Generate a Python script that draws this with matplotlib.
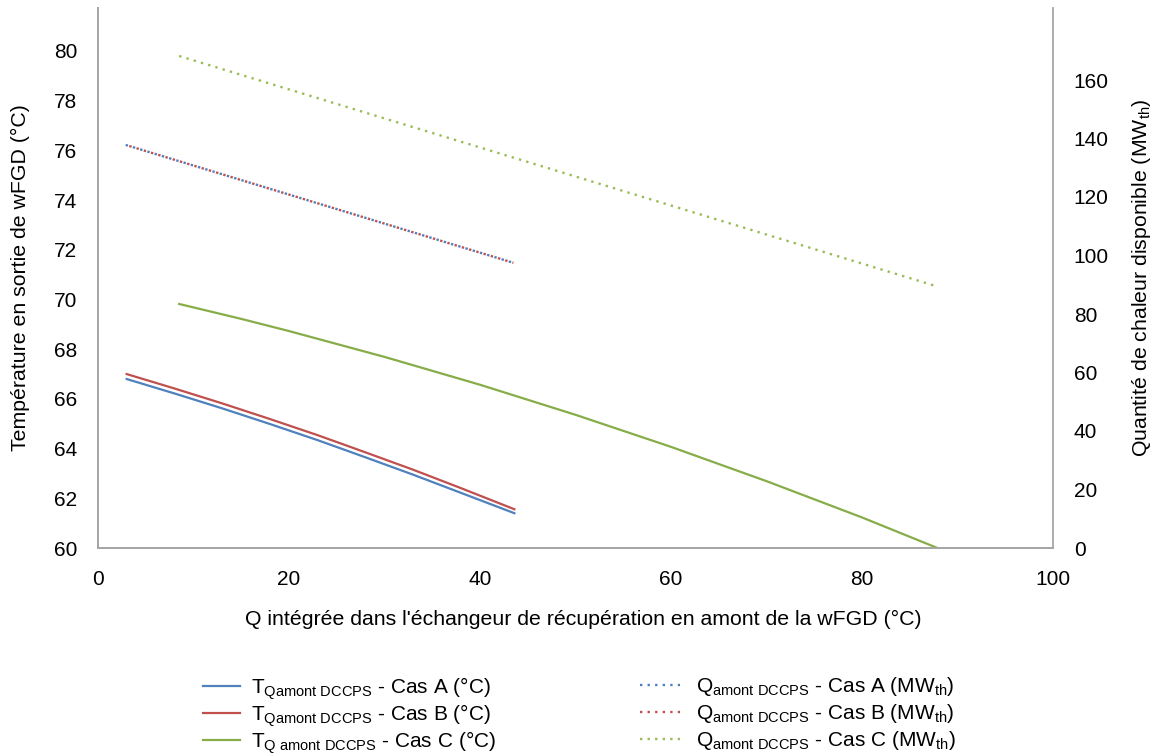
import matplotlib
matplotlib.use("Agg")
import matplotlib.pyplot as plt
from matplotlib.lines import Line2D

plt.rcParams['font.family'] = ['Liberation Sans', 'DejaVu Sans']
plt.rcParams['mathtext.fontset'] = 'custom'
plt.rcParams['mathtext.rm'] = 'Liberation Sans'
plt.rcParams['mathtext.it'] = 'Liberation Sans'

# ---- data ----
x_ab = [3, 8, 13, 18, 23, 28, 33, 38, 43.6]
t_a = [66.80, 66.22, 65.62, 64.99, 64.34, 63.65, 62.95, 62.22, 61.40]
t_b = [67.00, 66.42, 65.82, 65.19, 64.54, 63.85, 63.15, 62.41, 61.56]

x_c = [8.5, 15, 20, 30, 40, 50, 60, 70, 80, 87.9]
t_c = [69.82, 69.22, 68.73, 67.69, 66.57, 65.36, 64.07, 62.69, 61.23, 60.0]

xq_ab = [2.9, 43.5]
q_a = [137.8, 97.5]
q_b = [137.8, 97.5]

xq_c = [8.5, 87.7]
q_c = [168.2, 89.6]

xticks = [0, 20, 40, 60, 80, 100]
yticks_left = [60, 62, 64, 66, 68, 70, 72, 74, 76, 78, 80]
yticks_right = [0, 20, 40, 60, 80, 100, 120, 140, 160]

labels_t = [r'T$_{\mathrm{Qamont\ DCCPS}}$ - Cas A (°C)',
            r'T$_{\mathrm{Qamont\ DCCPS}}$ - Cas B (°C)',
            r'T$_{\mathrm{Q\ amont\ DCCPS}}$ - Cas C (°C)']
labels_q = [r'Q$_{\mathrm{amont\ DCCPS}}$ - Cas A (MW$_{\mathrm{th}}$)',
            r'Q$_{\mathrm{amont\ DCCPS}}$ - Cas B (MW$_{\mathrm{th}}$)',
            r'Q$_{\mathrm{amont\ DCCPS}}$ - Cas C (MW$_{\mathrm{th}}$)']

c_blue = '#4F81BD'
c_red = '#C0504D'
c_green = '#86AD48'
c_green_dot = '#9BBB59'
spine_c = '#A6A6A6'

fig = plt.figure(figsize=(11.54, 7.56), dpi=100)
ax = fig.add_axes([98 / 1154, 1 - 548 / 756, (1053 - 98) / 1154, 540 / 756])
ax2 = ax.twinx()

lw = 1.6
ax.plot(x_ab, t_a, color=c_blue, lw=lw, zorder=3)
ax.plot(x_ab, t_b, color=c_red, lw=lw, zorder=3)
ax.plot(x_c, t_c, color=c_green, lw=lw, zorder=3)

dls = (0, (1, 2.2))
dls_off = (1.6, (1, 2.2))
ax2.plot(xq_ab, q_a, color=c_blue, lw=1.7, linestyle=dls)
ax2.plot(xq_ab, q_b, color=c_red, lw=1.7, linestyle=dls_off)
ax2.plot(xq_c, q_c, color=c_green_dot, lw=1.7, linestyle=dls)

ax.set_xlim(0, 100)
ax.set_ylim(60, 60 + 540 / 24.85)
ax2.set_ylim(0, 540 / 2.925)
ax.set_xticks(xticks)
ax.set_yticks(yticks_left)
ax2.set_yticks(yticks_right)

for a in (ax, ax2):
    for s in a.spines.values():
        s.set_color(spine_c)
        s.set_linewidth(1.3)
    a.spines['top'].set_visible(False)
ax.spines['right'].set_visible(False)

fs = 15
ax.tick_params(axis='both', length=0, labelsize=fs, colors='#000000')
ax.tick_params(axis='y', pad=15)
ax.tick_params(axis='x', pad=16)
ax2.tick_params(axis='y', length=0, labelsize=fs, pad=15)

ax.set_xlabel("Q intégrée dans l'échangeur de récupération en amont de la wFGD (°C)",
              fontsize=15.3, labelpad=14)
ax.xaxis.set_label_coords(0.508, -0.115)
ax.set_ylabel("Température en sortie de wFGD (°C)", fontsize=15.3, labelpad=17)
ax2.set_ylabel(r"Quantité de chaleur disponible (MW$_{\mathrm{th}}$)", fontsize=15.3, labelpad=15)

h_t = [Line2D([], [], color=c, lw=lw) for c in (c_blue, c_red, c_green)]
h_q = [Line2D([], [], color=c, lw=1.7, linestyle=dls) for c in (c_blue, c_red, c_green_dot)]

leg1 = fig.legend(h_t, labels_t, loc='upper left', bbox_to_anchor=(203 / 1154, 1 - 675 / 756),
                  frameon=False, fontsize=15, handlelength=1.8, handletextpad=0.5,
                  labelspacing=0.03, borderpad=0, borderaxespad=0)
leg2 = fig.legend(h_q, labels_q, loc='upper left', bbox_to_anchor=(640 / 1154, 1 - 675 / 756),
                  frameon=False, fontsize=15, handlelength=1.9, handletextpad=0.8,
                  labelspacing=0.2, borderpad=0, borderaxespad=0)

fig.savefig('out.png', dpi=100)
